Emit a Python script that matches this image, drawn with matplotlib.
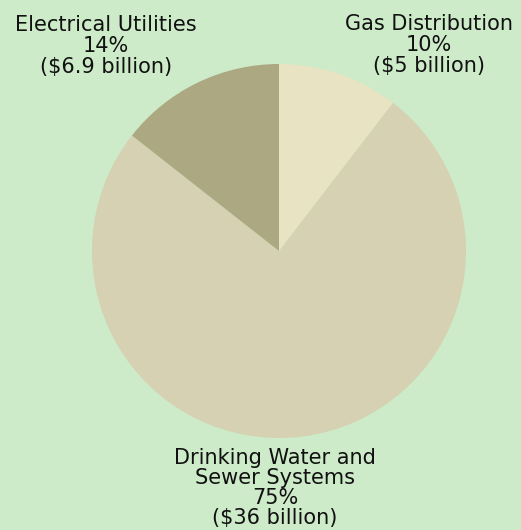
import matplotlib
matplotlib.use("Agg")
import matplotlib.pyplot as plt

categories = ["Gas Distribution", "Drinking Water and\nSewer Systems", "Electrical Utilities"]
billions = [5, 36, 6.9]
percent_labels = ["10%", "75%", "14%"]
amount_labels = ["($5 billion)", "($36 billion)", "($6.9 billion)"]
colors = ["#e8e4c3", "#d5d1b2", "#aba882"]
bg = "#cdebc8"

W, H = 521, 530
fig = plt.figure(figsize=(W / 100, H / 100), dpi=100, facecolor=bg)
ax = fig.add_axes([0, 0, 1, 1])
ax.set_facecolor(bg)

cx, cy, r = 279, H - 251, 187
ax.pie(billions, colors=colors, startangle=90, counterclock=False,
       center=(cx, cy), radius=r, frame=True,
       wedgeprops=dict(linewidth=0))
ax.set_xlim(0, W)
ax.set_ylim(0, H)
ax.set_aspect("equal")
ax.axis("off")

label_pos = [(429, H - 14), (275, H - 448.5), (106, H - 15)]
spacings = [1.06, 0.99, 1.06]
for (x, y), c, p, a, ls in zip(label_pos, categories, percent_labels, amount_labels, spacings):
    ax.text(x, y, f"{c}\n{p}\n{a}", ha="center", va="top", fontsize=15,
            family="DejaVu Sans", color="#111111", linespacing=ls)

fig.savefig("out.png", dpi=100, facecolor=bg)
